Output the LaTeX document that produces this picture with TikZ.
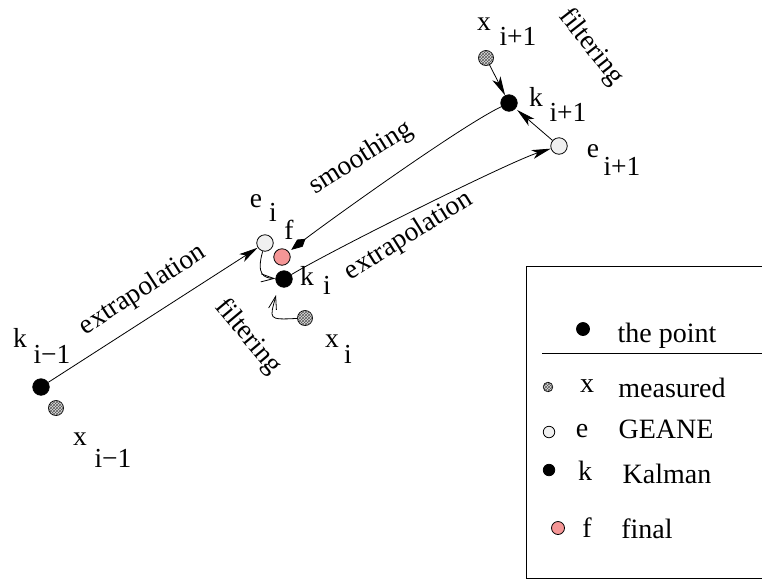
\documentclass[tikz,border=0pt]{standalone}
\usepackage{fontspec}
\setmainfont{Liberation Serif}
\usetikzlibrary{arrows.meta,patterns}
\definecolor{pinkf}{RGB}{245,150,150}
\definecolor{geaf}{RGB}{240,240,240}
\begin{document}
\begin{tikzpicture}[x=1pt,y=-1pt,
  pt/.style={circle, draw=black, line width=0.8pt, minimum size=16.5pt, inner sep=0pt},
  kal/.style={pt, fill=black},
  meas/.style={pt, minimum size=15pt, fill=gray!25, postaction={pattern=crosshatch, pattern color=black!65}},
  gea/.style={pt, fill=geaf},
  fin/.style={pt, fill=pinkf},
  lab/.style={font=\fontsize{27.5}{30}\selectfont, inner sep=0pt, anchor=base},
  leg/.style={font=\fontsize{28}{30}\selectfont, inner sep=0pt, anchor=base},
  rot/.style={font=\fontsize{27.5}{30}\selectfont, inner sep=0pt},
  conn/.style={line width=0.8pt},
  arr/.style={conn, -{Stealth[length=19pt,width=9pt,inset=5pt]}},
  kitearr/.style={conn, -{Kite[length=18pt,width=9pt,inset=7pt]}},
  openarr/.style={conn, -{Straight Barb[length=13pt,width=8pt]}}
]
\useasboundingbox (0,0) rectangle (762,582);
\clip (0,0) rectangle (762,582);

% points
\node[kal]  (kim1) at (41,387) {};
\node[meas] (xim1) at (56,408) {};
\node[gea]  (ei)   at (265,243) {};
\node[fin]  (f)    at (282,257) {};
\node[kal]  (ki)   at (284,279) {};
\node[meas] (xi)   at (305,318) {};
\node[meas] (xip1) at (486,58) {};
\node[kal]  (kip1) at (509,103) {};
\node[gea]  (eip1) at (559,146) {};

% labels
\node[lab] (lk1)  at (20,347) {k};
\node[lab] (lk1s) at (52,363) {i−1};
\node[lab] (lx1)  at (80,445) {x};
\node[lab] (lx1s) at (113,467) {i−1};
\node[lab] (le)   at (256,207) {e};
\node[lab] (les)  at (273,221) {i};
\node[lab] (lf)   at (289,239) {f};
\node[lab] (lk)   at (307,285) {k};
\node[lab] (lks)  at (327,294) {i};
\node[lab] (lx)   at (332,347) {x};
\node[lab] (lxs)  at (348,363) {i};
\node[lab] (lx2)  at (484,30) {x};
\node[lab] (lx2s) at (518,45) {i+1};
\node[lab] (lk2)  at (536,106) {k};
\node[lab] (lk2s) at (568,121) {i+1};
\node[lab] (le2)  at (593,157) {e};
\node[lab] (le2s) at (622,175) {i+1};

% rotated words
\node[rot, rotate=33] (ex1) at (143,290) {extrapolation};
\node[rot, rotate=32] (ex2) at (409,236) {extrapolation};
\node[rot, rotate=32] (sm)  at (361,158) {smoothing};
\node[rot, rotate=-50] (fi1) at (248,337) {filtering};
\node[rot, rotate=-52] (fi2) at (591,47) {filtering};

% connectors
\draw[arr] (kim1) -- (ei);
\draw[arr] (ki) .. controls +(50,-30) and +(-50,16) .. (eip1);
\draw[kitearr, shorten >=3pt] (kip1) .. controls +(-50,24) and +(40,-31) .. (f);
\draw[arr] (xip1) -- (kip1);
\draw[arr, shorten >=2pt] (eip1) -- (kip1);
\draw[openarr] (ei) .. controls +(-9,32) and +(-20,-1) .. (ki);
\coordinate (kin) at (276,295);
\draw[openarr] (xi) .. controls +(-38,2) and +(-6,24) .. (kin);

% legend
\draw[line width=0.8pt] (526,266) rectangle (775,578);
\draw[line width=0.8pt] (542,353) -- (762,353);
\node[pt, fill=black, minimum size=13pt] (lg1) at (583,329) {};
\node[leg] (lt1) at (667,342) {the point};
\node[meas, minimum size=9.5pt] (lg2) at (548,387) {};
\node[leg] (lx)  at (587,392) {x};
\node[leg] (lt2) at (672,397) {measured};
\node[gea, minimum size=11.5pt] (lg3) at (549,432) {};
\node[leg] (le)  at (582,437) {e};
\node[leg] (lt3) at (666,438) {GEANE};
\node[kal, minimum size=11.5pt] (lg4) at (549,470) {};
\node[leg] (lk)  at (585,480) {k};
\node[leg] (lt4) at (667,483) {Kalman};
\node[fin, minimum size=13pt] (lg5) at (558,528) {};
\node[leg] (lf)  at (587,537) {f};
\node[leg] (lt5) at (647,538) {final};
\end{tikzpicture}
\end{document}
